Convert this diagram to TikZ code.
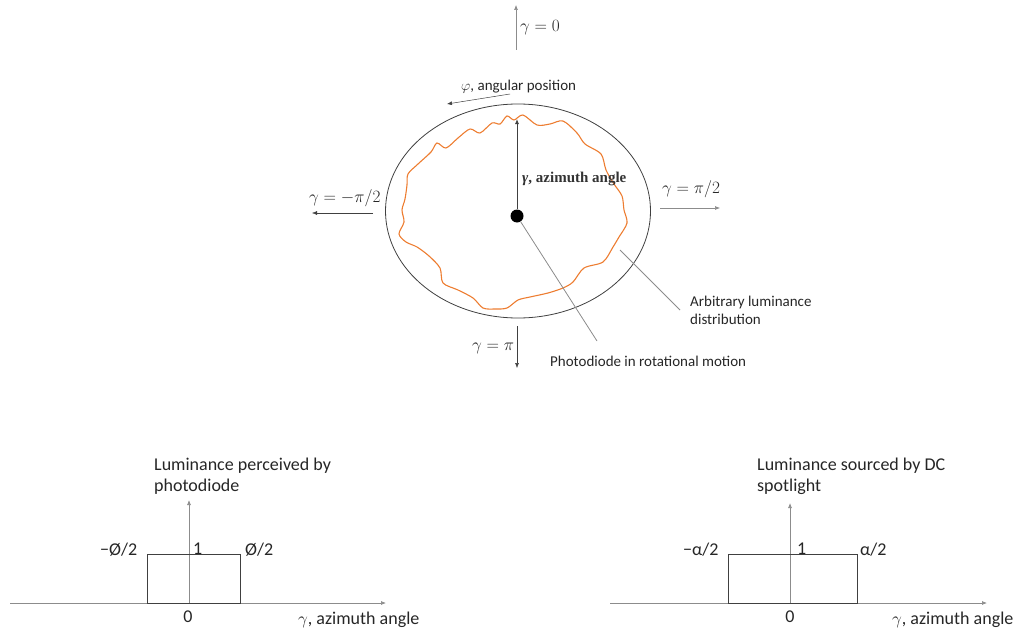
\documentclass[tikz,border=0pt]{standalone}
\usepackage{fontspec}
\setmainfont{Carlito}
\newfontfamily\serifb{Liberation Serif}
\usetikzlibrary{arrows.meta,shapes.geometric}
\definecolor{orng}{HTML}{ED7D31}
\definecolor{dgray}{HTML}{404040}
\definecolor{lgray}{HTML}{8C8C8C}
\tikzset{
  lbl/.style={font=\fontsize{15}{18}\selectfont, inner sep=0pt, text=black!85},
  mlbl/.style={font=\fontsize{16}{19}\selectfont, inner sep=0pt, text=black!85},
  blbl/.style={font=\fontsize{18}{21}\selectfont, inner sep=0pt, text=black!85},
  arr/.style={-{Latex[length=5pt,width=4pt]}, draw=black!75, line width=0.5pt},
  thinarr/.style={-{Latex[length=5pt,width=4pt]}, draw=lgray, line width=0.6pt},
  lead/.style={draw=lgray, line width=0.8pt},
  axisline/.style={draw=lgray, line width=0.7pt, -{Latex[length=5pt,width=4pt]}},
  boxr/.style={draw=dgray, line width=0.8pt},
}
\begin{document}
\begin{tikzpicture}[x=1pt,y=-1pt]
\useasboundingbox (0,0) rectangle (1031,634);

% gamma = 0
\coordinate (g0a) at (516,50);
\coordinate (g0b) at (516,5);
\draw[thinarr] (g0a) -- (g0b);
\node[mlbl, anchor=west] (g0) at (520,28) {$\gamma = 0$};

% phi
\node[lbl, anchor=west] (phi) at (461,87) {$\varphi$, angular position};
\coordinate (pha) at (510,94);
\coordinate (phb) at (447,104);
\draw[arr] (pha) -- (phb);

% ellipse
\node[draw=dgray, line width=0.8pt, ellipse, minimum width=265pt, minimum height=214pt, inner sep=0pt] (ell) at (518,211) {};

% orange curve
\draw[orng, line width=1.1pt, smooth cycle, tension=0.5] plot coordinates {
(507,116) (514,120) (523,115) (537,125) (550,124) (563,121) (577,133) (585,144)
(601,154) (606,170) (614,184) (622,196) (624,210) (627,223) (619,237) (613,247)
(603,262) (584,268) (573,282) (563,288) (548,293) (530,297) (518,300) (507,308)
(495,309) (483,308) (473,298) (458,290) (443,283) (440,268) (429,256) (417,247)
(406,242) (399,234) (404,222) (402,210) (405,199) (407,185) (408,174) (418,164)
(431,152) (437,143) (446,148) (458,138) (470,129) (480,133) (492,123) (500,124)
};

% centre dot
\node[circle, fill=black, minimum size=13pt, inner sep=0pt] (dot) at (517,216) {};
\coordinate (dtop) at (517,119);
\draw[line width=0.8pt, -{Latex[length=5pt,width=4pt]}, draw=dgray] (dot) -- (dtop);
\node[font=\serifb\bfseries\fontsize{15}{18}\selectfont, inner sep=0pt, text=black!80, anchor=west] (az) at (522,179) {\textit{γ}, azimuth angle};

% gamma = -pi/2
\node[mlbl, anchor=west] (gm) at (309,198) {$\gamma = -\pi/2$};
\coordinate (gma) at (373,213);
\coordinate (gmb) at (312,213);
\draw[arr] (gma) -- (gmb);

% gamma = pi/2
\node[mlbl, anchor=west] (gp) at (662,189) {$\gamma = \pi/2$};
\coordinate (gpa) at (660,208);
\coordinate (gpb) at (720,208);
\draw[thinarr] (gpa) -- (gpb);

% gamma = pi
\node[mlbl, anchor=west] (gpi) at (472,348) {$\gamma = \pi$};
\coordinate (gpia) at (517,326);
\coordinate (gpib) at (517,368);
\draw[arr] (gpia) -- (gpib);

% leaders
\node[lbl, anchor=west] (photo) at (550,361) {Photodiode in rotational motion};
\coordinate (phend) at (597,341);
\draw[lead] (dot) -- (phend);
\node[lbl, anchor=north west, align=left] (arb) at (690,296) {Arbitrary luminance\\distribution};
\coordinate (arbs) at (620,250);
\coordinate (arbe) at (680,310);
\draw[lead] (arbs) -- (arbe);

% left graph
\coordinate (lxa) at (10,603);
\coordinate (lxb) at (386,603);
\draw[axisline] (lxa) -- (lxb);
\coordinate (lya) at (189,603);
\coordinate (lyb) at (189,500);
\draw[axisline] (lya) -- (lyb);
\node[boxr, minimum width=93pt, minimum height=49pt, inner sep=0pt, anchor=north west] (lbox) at (147,554) {};
\node[blbl, anchor=north west, align=left] (ltitle) at (154,458) {Luminance perceived by\\photodiode};
\node[blbl, anchor=west] (lm) at (100,550) {−Ø/2};
\node[blbl, anchor=west] (l1) at (193,549) {1};
\node[blbl, anchor=west] (lp) at (245,550) {Ø/2};
\node[blbl] (l0) at (188,617) {0};
\node[blbl, anchor=west] (lg) at (298,620) {$\gamma$, azimuth angle};

% right graph
\coordinate (rxa) at (610,603);
\coordinate (rxb) at (987,603);
\draw[axisline] (rxa) -- (rxb);
\coordinate (rya) at (790,603);
\coordinate (ryb) at (790,503);
\draw[axisline] (rya) -- (ryb);
\node[boxr, minimum width=129pt, minimum height=49pt, inner sep=0pt, anchor=north west] (rbox) at (728,554) {};
\node[blbl, anchor=north west, align=left] (rtitle) at (757,458) {Luminance sourced by DC\\spotlight};
\node[blbl, anchor=west] (rm) at (683,550) {−α/2};
\node[blbl, anchor=west] (r1) at (797,549) {1};
\node[blbl, anchor=west] (rp) at (860,550) {α/2};
\node[blbl] (r0) at (790,617) {0};
\node[blbl, anchor=west] (rg) at (892,620) {$\gamma$, azimuth angle};
\end{tikzpicture}
\end{document}
